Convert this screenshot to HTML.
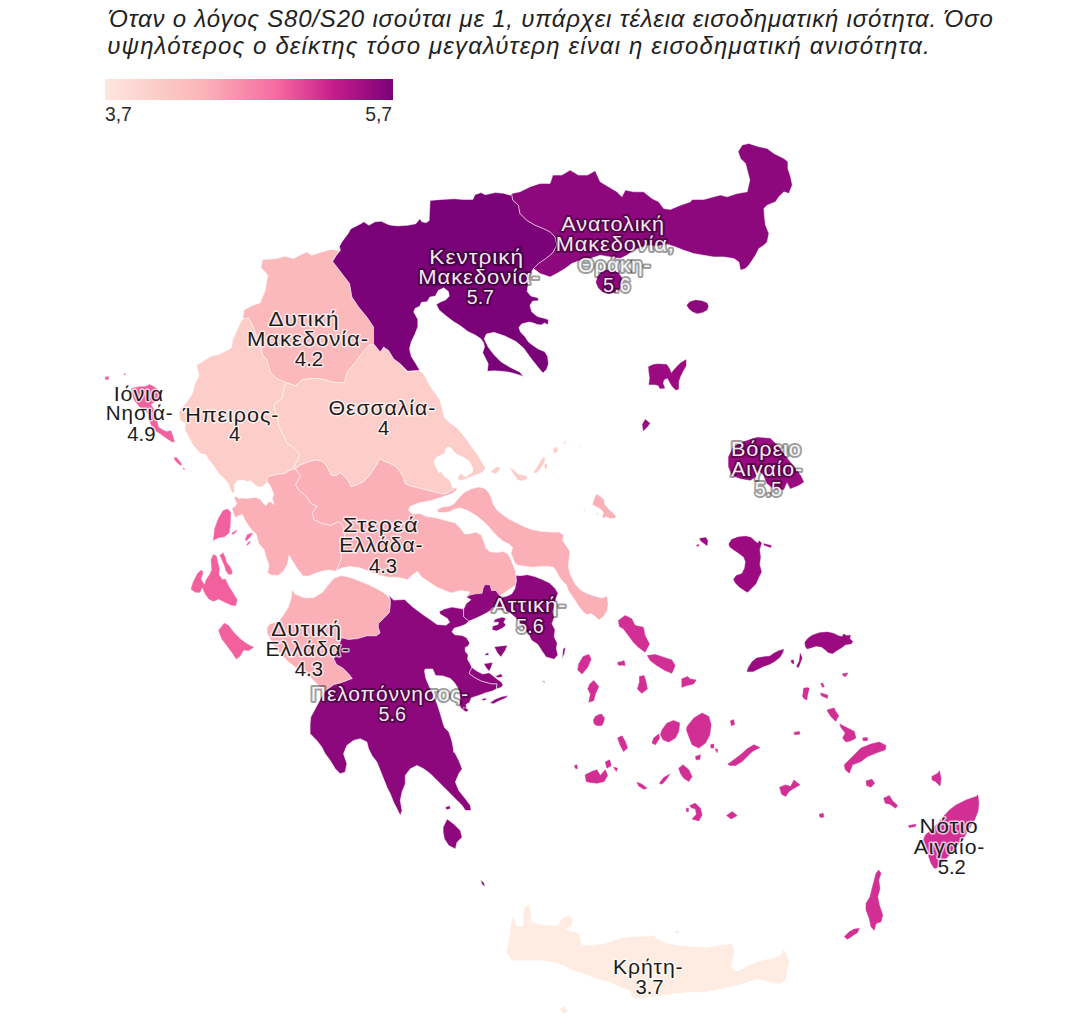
<!DOCTYPE html>
<html lang="el"><head><meta charset="utf-8"><title>S80/S20</title>
<style>
html,body{margin:0;padding:0;background:#fff;}
body{width:1079px;height:1033px;overflow:hidden;position:relative;font-family:"Liberation Sans","DejaVu Sans",sans-serif;color:#222;}
.intro{position:absolute;font-style:italic;font-size:24px;line-height:28px;color:#222;white-space:nowrap;}
.i1{left:108.8px;top:4.5px;letter-spacing:.796px;} .i2{left:107.2px;top:32px;letter-spacing:1.15px;}
.bar{position:absolute;left:105px;top:78.5px;width:288px;height:21px;background:linear-gradient(90deg,#fee7de 0%,#fbb4b9 34%,#f768a1 60%,#c51b8a 80%,#7a0177 100%);}
.lg{position:absolute;top:103.2px;font-size:21px;line-height:22px;color:#2b2b2b;transform:scaleX(.92);}
.lg.a{left:104.5px;transform-origin:0 0;} .lg.b{left:291.5px;width:100px;text-align:right;transform-origin:100% 0;}
svg{position:absolute;left:0;top:0;}
.i{stroke-width:.5;stroke-linejoin:round;}
.r{stroke:#fff;stroke-width:.6;stroke-opacity:.85;stroke-linejoin:round;}
text{font-family:"Liberation Sans","DejaVu Sans",sans-serif;font-size:21px;letter-spacing:.9px;text-anchor:start;paint-order:stroke fill;stroke-linejoin:round;}
.n{letter-spacing:0;}
.lb{fill:#1c1c1c;stroke:#fff;stroke-width:3px;stroke-opacity:.7;}
.lw{fill:#fff;fill-opacity:.93;stroke:#000;stroke-opacity:.4;stroke-width:4px;}
</style></head><body>
<div class="intro i1">Όταν ο λόγος S80/S20 ισούται με 1, υπάρχει τέλεια εισοδηματική ισότητα. Όσο</div>
<div class="intro i2">υψηλότερος ο δείκτης τόσο μεγαλύτερη είναι η εισοδηματική ανισότητα.</div>
<div class="bar"></div>
<div class="lg a">3,7</div><div class="lg b">5,7</div>
<svg width="1079" height="1033" viewBox="0 0 1079 1033">
<g>
<path class="r" fill="#fccdc9" d="M196.4,365.2 202.6,361.5 210.1,356.5 220.1,354.0 231.4,347.7 232.6,340.2 240.2,322.7 242.7,318.9 248.4,318.0 251.7,323.3 254.4,330.0 257.7,338.4 261.0,347.7 262.7,355.1 266.1,358.4 268.4,364.4 270.1,371.8 276.7,378.5 286.1,382.5 283.7,389.6 282.1,398.5 274.8,403.6 274.1,409.0 277.9,416.3 278.5,425.2 283.7,435.7 286.8,443.0 295.7,449.0 299.9,454.8 294.1,466.9 296.3,469.5 294.6,469.5 292.4,468.9 284.6,473.4 275.7,474.5 267.9,476.7 266.8,482.3 265.7,484.0 262.3,486.8 257.9,486.8 253.4,483.4 250.1,480.6 246.8,481.7 243.4,480.1 237.8,480.6 234.5,484.5 234.5,492.3 232.3,493.4 230.1,489.0 228.9,484.5 224.5,479.0 218.9,473.4 213.4,465.6 207.8,458.4 205.6,454.5 200.0,453.4 200.2,453.5 193.5,445.7 189.0,437.9 184.6,429.0 185.7,423.4 180.1,420.1 179.0,412.3 181.3,407.9 186.8,402.3 192.4,393.4 194.6,384.5 199.1,375.6Z"/>
<path class="r" fill="#fccdc9" d="M286.1,382.5 295.4,385.5 302.8,379.5 311.1,378.5 319.2,378.5 326.8,380.1 334.2,382.5 344.5,382.5 345.9,376.5 347.5,371.8 354.9,363.1 360.2,355.4 368.6,345.4 373.6,343.7 380.3,352.1 383.6,347.1 388.6,350.4 393.6,358.8 400.3,363.8 407.0,372.1 419.7,370.3 424.3,374.9 428.0,382.3 432.6,389.7 438.2,397.2 440.1,400.0 442.3,408.9 444.5,417.8 449.0,422.3 455.7,426.7 460.1,431.2 463.5,435.6 467.9,441.2 472.4,447.9 476.8,453.4 480.2,459.0 483.5,464.6 485.5,467.9 483.5,471.2 480.2,473.5 475.7,475.1 471.2,476.8 466.8,478.5 462.3,480.2 458.4,480.2 457.9,477.4 459.6,474.6 462.3,473.5 463.5,476.3 466.8,476.3 470.1,473.5 472.4,472.4 472.9,469.0 471.2,464.6 468.5,460.7 464.6,457.9 460.1,455.7 456.2,454.0 453.4,451.2 451.8,448.4 447.9,446.8 445.6,449.0 445.1,452.9 441.2,455.1 436.7,457.3 434.0,460.7 435.1,465.7 437.3,469.6 439.0,472.9 440.6,471.2 442.9,474.6 445.6,477.4 449.0,479.6 451.2,482.9 451.8,486.8 454.5,487.9 456.8,487.5 455.2,488.4 449.3,491.7 443.5,494.2 436.8,492.6 430.1,490.9 423.5,489.2 416.8,487.5 410.1,485.9 405.1,483.4 403.4,476.7 400.1,471.7 395.9,466.7 390.1,463.4 383.4,460.9 380.1,458.4 376.8,464.2 373.4,470.0 369.2,475.9 363.4,481.7 356.7,485.0 350.9,486.7 348.4,480.9 344.2,475.9 340.1,472.5 335.9,475.9 330.9,475.0 329.2,470.9 325.9,465.0 321.7,460.9 315.0,460.0 306.7,462.5 300.0,465.0 295.0,469.2 296.3,469.5 294.1,466.9 299.9,454.8 295.7,449.0 286.8,443.0 283.7,435.7 278.5,425.2 277.9,416.3 274.1,409.0 274.8,403.6 282.1,398.5 283.7,389.6ZM490.8,471.2 496.7,466.7 500.4,467.4 498.9,471.2 495.2,474.1 491.5,472.6ZM510.0,467.2 513.7,469.7 518.2,474.1 523.4,475.2 527.5,476.0 527.1,479.3 522.6,481.1 517.4,480.1 514.5,475.6 511.5,471.2ZM533.0,472.6 536.7,467.4 540.4,460.8 543.4,456.8 545.6,458.8 544.1,463.7 540.4,468.9 536.0,473.4ZM544.1,464.5 547.1,463.3 547.4,468.2 544.9,469.7ZM553.3,448.9 555.7,446.4 557.8,448.2 557.5,451.9 554.8,453.4 553.3,451.4ZM563.1,443.7 564.9,440.5 566.1,441.1 564.9,444.9ZM579.4,446.4 580.5,445.9 580.5,448.2 579.7,448.2ZM559.0,479.0 560.5,479.0 560.5,480.5 559.1,480.5Z"/>
<path class="r" fill="#fbb9bc" d="M262.7,259.6 276.7,258.6 285.1,256.2 293.4,258.6 301.8,254.2 306.8,251.9 311.8,255.2 321.8,251.9 330.2,249.5 339.5,250.2 332.5,261.2 336.9,266.9 341.9,273.6 349.6,283.6 351.9,297.0 358.6,307.0 366.9,317.0 373.6,327.0 373.6,343.7 368.6,345.4 360.2,355.4 354.9,363.1 347.5,371.8 345.9,376.5 344.5,382.5 334.2,382.5 326.8,380.1 319.2,378.5 311.1,378.5 302.8,379.5 295.4,385.5 286.1,382.5 276.7,378.5 270.1,371.8 268.4,364.4 266.1,358.4 262.7,355.1 261.0,347.7 257.7,338.4 254.4,330.0 251.7,323.3 248.4,318.0 242.7,318.9 243.9,310.2 250.2,306.4 260.2,302.7 265.2,290.2 267.7,275.1 260.9,267.6Z"/>
<path class="r" fill="#7a0177" d="M332.6,261.5 336.3,255.4 340.4,250.3 339.4,246.3 342.4,241.2 348.5,233.0 350.6,228.9 360.8,223.8 363.8,221.8 368.9,225.3 375.0,221.8 381.2,221.2 389.3,224.9 397.5,225.9 407.7,225.3 415.8,223.8 419.9,218.7 421.9,221.8 426.0,222.8 429.1,220.8 430.1,200.4 442.3,199.4 454.6,198.8 462.7,199.4 472.9,199.4 474.9,194.7 481.1,192.6 485.1,194.7 495.3,192.6 503.5,193.3 510.6,195.3 512.7,191.2 511.7,193.5 512.7,200.1 518.4,205.2 520.0,213.5 526.7,220.2 535.1,225.2 543.4,228.5 550.1,231.9 555.1,236.9 556.8,245.2 553.4,251.9 550.1,255.3 543.4,260.3 538.4,263.6 533.4,268.6 530.9,273.0 528.6,278.5 528.1,284.1 527.2,291.5 530.9,296.1 538.3,298.0 538.3,300.8 532.7,301.1 529.9,305.4 531.8,311.9 537.4,316.5 544.8,318.4 548.5,319.7 547.9,324.9 544.8,323.0 541.1,324.9 537.4,324.5 532.7,322.7 529.0,322.1 521.6,323.9 518.8,327.7 520.7,332.3 525.3,336.9 528.1,341.6 532.7,345.3 538.3,349.0 544.8,351.8 547.6,356.4 548.5,363.8 546.6,369.4 542.9,373.1 538.3,367.5 530.9,358.2 523.5,348.0 516.0,341.6 504.9,336.0 493.8,332.3 486.4,334.1 484.2,338.8 488.2,347.1 493.8,354.5 501.2,361.9 510.5,367.5 519.7,372.1 523.5,376.4 516.0,374.0 508.6,372.1 501.2,371.2 493.8,370.8 487.3,371.2 488.2,363.8 485.5,358.2 482.7,352.7 484.5,347.1 483.6,342.5 480.8,338.8 475.3,335.1 467.8,331.4 460.4,325.8 453.0,321.2 445.6,315.6 439.1,310.0 436.3,304.5 441.0,301.7 445.6,299.9 449.3,296.1 448.4,291.5 443.8,287.8 438.2,290.6 435.4,296.1 429.9,297.1 427.1,301.7 421.5,302.3 419.7,306.3 415.0,308.6 413.7,311.9 417.8,319.3 417.8,326.7 415.0,334.1 411.3,341.6 409.5,349.0 411.3,356.4 415.9,363.8 419.7,370.3 407.6,371.2 400.3,363.8 393.6,358.8 388.6,350.4 383.6,347.1 380.3,352.1 373.6,343.7 373.6,327.0 366.9,317.0 358.6,307.0 351.9,297.0 349.6,283.6 341.9,273.6 336.9,266.9Z"/>
<path class="r" fill="#8d087c" d="M511.7,193.5 520.0,191.8 530.1,186.8 540.1,183.4 550.1,183.4 552.8,175.1 561.8,175.1 570.1,170.1 578.5,175.1 587.5,175.1 595.2,170.7 600.2,181.8 608.6,186.8 616.9,191.8 621.9,196.8 625.3,190.1 633.6,191.8 643.6,191.8 652.0,198.5 658.7,201.8 663.7,208.5 670.3,209.5 680.4,205.2 690.4,201.8 692.1,199.5 703.7,199.5 713.8,196.8 720.4,195.1 727.1,196.8 737.1,193.5 747.2,191.8 749.8,180.1 747.2,170.1 745.5,163.4 740.5,158.4 738.1,151.7 742.2,145.0 748.8,143.4 758.9,146.7 767.2,148.4 773.9,153.4 783.9,158.4 787.9,161.7 787.9,168.4 790.6,176.8 792.3,185.1 788.9,193.5 783.9,191.8 778.9,196.8 775.6,201.8 767.2,205.2 763.9,208.5 764.5,216.8 765.5,225.2 768.9,233.5 767.2,241.9 763.9,245.2 758.9,248.6 755.5,255.3 752.2,260.3 748.8,265.3 745.5,268.6 740.5,270.3 738.8,261.9 733.8,258.6 723.8,256.9 713.8,256.9 703.7,255.3 693.7,253.6 683.7,250.2 675.4,246.9 667.0,244.2 657.0,246.2 647.0,245.2 633.6,250.2 626.9,255.3 620.2,258.6 610.2,256.9 600.2,255.3 590.2,258.6 580.2,260.3 571.8,263.6 565.1,268.6 556.8,273.6 550.1,277.0 540.1,273.6 533.4,268.6 538.4,263.6 543.4,260.3 550.1,255.3 553.4,251.9 556.8,245.2 555.1,236.9 550.1,231.9 543.4,228.5 535.1,225.2 526.7,220.2 520.0,213.5 518.4,205.2 512.7,200.1ZM595.6,282.4 597.1,276.9 600.8,272.2 606.3,269.5 613.8,270.0 619.3,273.2 622.1,277.8 622.7,283.4 620.2,288.9 615.6,292.6 609.1,294.1 602.6,292.3 598.0,288.0ZM686.4,305.2 689.7,301.5 695.3,299.7 701.8,300.4 707.4,302.8 708.7,306.5 707.4,310.2 702.7,312.7 697.2,313.9 692.5,312.1 688.8,308.9Z"/>
<path class="r" fill="#fbb0b7" d="M295.5,468.9 300.4,476.1 295.5,484.6 298.0,489.4 306.4,496.6 311.2,503.9 317.2,506.3 312.4,512.3 313.6,519.5 320.8,523.1 330.5,525.5 337.7,521.9 341.3,523.1 344.9,531.6 343.7,541.2 341.3,550.8 341.3,558.1 337.7,567.7 335.3,571.3 342.5,567.7 349.8,566.5 359.4,567.7 369.0,571.3 378.7,574.9 388.3,577.3 398.0,577.3 407.6,579.8 411.2,576.1 417.2,571.3 422.0,577.3 429.3,582.2 436.5,587.0 444.9,590.6 451.0,593.0 460.6,590.6 469.8,591.8 466.3,597.9 475.6,599.7 494.1,599.7 516.0,584.9 516.0,575.3 515.5,571.0 513.6,566.4 511.8,561.8 510.8,559.0 508.0,554.3 503.4,551.6 496.0,552.5 489.5,551.6 485.8,547.8 483.9,541.4 481.2,534.9 475.6,532.1 469.1,533.9 464.5,533.9 459.9,527.5 455.2,522.8 447.8,521.0 440.4,519.1 433.0,517.3 425.6,516.3 420.0,513.6 412.2,514.0 408.6,510.4 409.8,506.7 418.2,503.1 430.2,500.7 442.3,497.1 451.9,493.5 458.0,489.2 456.7,489.9 456.8,487.5 455.2,488.4 449.3,491.7 443.5,494.2 436.8,492.6 430.1,490.9 423.5,489.2 416.8,487.5 410.1,485.9 405.1,483.4 403.4,476.7 400.1,471.7 395.9,466.7 390.1,463.4 383.4,460.9 380.1,458.4 376.8,464.2 373.4,470.0 369.2,475.9 363.4,481.7 356.7,485.0 350.9,486.7 348.4,480.9 344.2,475.9 340.1,472.5 335.9,475.9 330.9,475.0 329.2,470.9 325.9,465.0 321.7,460.9 315.0,460.0 306.7,462.5 300.0,465.0 295.0,469.2ZM436.7,509.9 442.2,507.1 449.7,506.1 454.3,503.4 458.9,497.8 464.5,492.2 471.9,488.5 479.3,487.1 484.9,488.5 488.6,492.2 491.4,497.8 493.2,504.3 496.9,509.9 502.5,514.5 509.0,519.1 516.4,522.8 523.8,526.5 531.2,529.3 540.5,531.2 549.7,532.1 559.0,532.1 563.7,534.9 562.7,540.4 566.4,546.0 570.1,551.6 569.2,559.0 568.3,566.4 570.1,573.8 572.9,579.4 575.7,584.9 581.3,590.5 586.8,593.3 594.2,596.0 601.6,597.9 607.2,596.0 608.1,603.5 607.2,610.9 603.5,616.4 598.9,620.1 595.2,616.4 591.5,613.7 586.8,614.6 583.1,611.8 579.4,607.2 575.7,601.6 572.0,596.0 568.3,590.5 566.4,584.9 562.7,581.2 559.0,576.6 556.2,571.0 553.5,567.3 547.9,566.4 540.5,566.4 533.1,567.3 525.7,566.4 518.2,565.5 514.5,562.7 512.7,557.1 510.8,553.4 512.7,547.8 509.0,544.1 503.4,541.4 497.8,536.7 493.2,532.1 488.6,526.5 483.9,521.9 478.4,517.3 472.8,513.6 466.3,509.9 459.9,508.0 455.2,508.9 449.7,511.7 444.1,512.6 438.5,512.6ZM592.3,504.5 594.6,497.1 596.8,493.8 600.5,496.4 604.2,499.3 604.9,504.5 608.6,509.0 613.1,512.7 616.1,516.4 614.6,518.6 609.4,518.6 605.7,516.4 604.2,518.6 602.0,517.1 603.5,512.7 600.5,509.0 596.0,506.7ZM583.4,509.7 584.9,509.4 584.9,511.2 583.7,511.2ZM596.3,514.2 597.8,511.9 598.4,513.1 597.2,515.2Z"/>
<path class="r" fill="#fbb0b7" d="M295.5,468.4 295.5,468.9 300.4,476.1 295.5,484.6 298.0,489.4 306.4,496.6 311.2,503.9 317.2,506.3 312.4,512.3 313.6,519.5 320.8,523.1 330.5,525.5 337.7,521.9 341.3,523.1 344.9,531.6 343.7,541.2 341.3,550.8 341.3,558.1 337.7,567.7 335.3,571.3 328.3,570.1 317.9,572.3 309.0,576.0 303.1,576.0 297.1,568.6 292.7,561.2 289.0,555.2 287.5,564.1 283.8,570.8 278.6,575.3 271.9,575.3 267.5,573.0 269.0,565.6 266.0,556.7 263.8,549.3 258.6,543.4 256.4,534.5 251.2,529.3 246.0,521.9 242.3,514.5 234.9,517.4 231.9,508.5 235.6,505.7 236.7,503.5 234.0,497.9 235.6,496.2 239.0,498.4 242.3,497.9 246.8,498.4 251.2,497.9 255.7,497.3 260.1,499.0 263.5,503.5 266.2,505.7 268.5,501.8 271.2,502.3 274.0,504.6 272.4,499.0 273.5,493.4 271.2,487.9 268.5,482.9 266.8,482.3 267.9,476.7 275.7,474.5 284.6,473.4 292.4,468.9 294.6,469.5ZM292.1,589.5 294.9,594.1 304.1,597.8 313.4,597.8 322.7,592.2 328.2,584.8 333.8,578.3 341.2,575.6 350.5,577.4 359.7,581.1 369.0,584.8 378.3,589.5 385.7,594.1 390.3,599.7 390.3,605.2 389.4,612.6 383.8,618.2 378.3,623.8 378.3,627.5 380.1,633.0 376.4,635.8 367.2,635.8 357.9,638.6 348.6,639.5 341.2,637.7 339.4,644.1 335.7,651.6 333.8,659.0 336.6,664.5 343.1,668.2 348.6,673.8 352.3,678.4 341.2,682.7 333.8,684.6 324.5,691.4 311.6,678.4 300.4,671.0 289.3,662.7 280.0,653.4 272.6,644.1 267.1,633.0 267.1,627.5 269.9,623.8 278.2,621.9 283.8,614.5 288.4,607.1 291.2,597.8Z"/>
<path class="r" fill="#8d087c" d="M390.3,599.7 390.3,605.2 389.4,612.6 383.8,618.2 378.3,623.8 378.3,627.5 380.1,633.0 376.4,635.8 367.2,635.8 357.9,638.6 348.6,639.5 341.2,637.7 339.4,644.1 335.7,651.6 333.8,659.0 336.6,664.5 343.1,668.2 348.6,673.8 352.3,678.4 341.2,682.7 333.8,684.6 324.5,691.4 313.5,712.0 310.8,717.0 310.1,723.7 310.1,733.7 316.8,740.4 321.8,747.0 325.2,753.7 330.2,760.4 335.2,768.8 340.2,773.8 345.2,772.1 346.9,763.7 343.5,753.7 346.9,745.4 353.5,740.4 360.2,738.7 366.9,742.0 368.6,748.7 371.9,755.4 376.9,762.1 380.3,770.4 383.6,778.8 386.9,787.1 390.3,793.8 393.6,802.2 397.0,808.8 400.3,815.5 402.0,810.5 400.3,800.5 402.0,792.1 405.3,783.8 405.3,775.4 410.3,768.8 417.0,765.4 423.7,768.8 430.4,773.8 435.4,778.8 440.4,783.8 445.4,788.8 450.4,793.8 457.1,800.5 462.1,805.5 465.4,810.5 471.1,810.5 470.4,805.5 465.4,798.8 458.8,790.5 455.4,782.1 458.8,773.8 462.1,768.8 458.8,760.4 453.7,750.4 454.1,752.7 451.9,740.9 448.9,732.0 444.5,727.5 443.0,723.1 440.0,712.7 437.1,703.8 433.4,694.9 429.7,687.5 425.9,678.6 424.5,671.2 425.2,669.0 432.6,669.0 435.6,675.6 443.0,675.9 450.4,678.6 454.1,682.3 457.1,686.7 459.3,691.9 460.1,697.9 459.3,703.8 460.8,708.2 465.2,711.2 469.0,710.5 466.7,709.0 466.0,704.5 469.7,702.3 471.2,697.9 475.6,696.4 480.1,694.9 486.0,692.7 491.9,691.2 496.4,689.0 497.1,683.8 491.9,683.8 486.0,682.3 480.8,680.8 474.1,677.1 469.0,673.4 471.9,667.5 469.7,663.0 467.5,659.3 468.2,654.9 465.2,651.2 465.2,647.4 468.2,646.0 469.7,643.0 466.7,637.8 462.3,635.6 454.9,634.8 451.9,631.9 454.1,628.2 459.3,626.7 465.2,624.5 469.7,620.8 466.3,619.2 463.6,616.4 463.6,609.0 451.9,607.1 444.5,608.9 439.3,611.6 440.0,614.1 447.4,618.5 449.7,622.2 446.0,625.2 437.1,624.5 429.7,619.3 422.2,614.1 413.3,607.4 405.9,600.7 405.3,599.4 393.6,600.1 388.6,595.1ZM445.4,807.2 449.7,805.5 450.4,808.8 446.4,809.8Z"/>
<path class="r" fill="#8d087c" d="M516.0,575.3 516.4,581.2 514.9,588.6 511.8,593.8 507.1,596.0 501.6,597.5 497.8,593.3 496.0,590.5 491.4,590.5 490.1,584.9 484.9,584.6 483.0,588.6 482.1,593.3 475.6,593.8 470.0,595.1 466.3,597.0 471.0,599.7 466.3,603.5 463.6,609.0 463.6,616.4 466.3,619.2 469.1,621.1 474.1,619.0 480.1,616.3 486.0,613.3 490.5,610.4 492.7,607.4 500.8,608.9 509.7,612.6 515.7,617.8 520.8,623.7 524.6,629.7 529.0,634.8 531.2,640.0 537.9,644.5 541.6,650.4 546.1,657.1 554.2,659.3 557.9,654.9 556.4,648.9 557.2,643.0 554.2,637.1 555.0,629.7 552.0,623.7 554.2,617.8 552.7,611.9 556.2,597.9 558.1,593.3 555.3,588.6 549.7,583.1 542.3,579.4 534.9,576.6 527.5,574.7 520.1,575.7ZM494.9,619.3 502.3,617.1 506.0,618.5 503.8,622.2 506.0,625.2 502.3,628.2 496.4,631.1 491.9,629.7 492.7,625.9 497.9,624.5 498.6,622.2 493.4,622.2ZM494.2,646.7 507.5,645.2 505.3,650.4 500.8,657.1 497.1,652.6ZM484.8,654.1 488.2,652.6 489.0,654.9 485.7,655.6ZM483.8,663.8 492.7,662.3 491.2,667.5 489.0,671.2 486.0,667.5ZM494.9,676.4 500.8,673.8 503.1,676.4 498.6,677.8ZM471.9,667.5 477.1,671.2 483.0,674.1 489.0,672.7 492.7,675.6 496.4,678.6 501.6,682.3 503.1,685.3 500.8,687.5 496.4,689.0 497.1,683.8 491.9,683.8 486.0,682.3 480.8,680.8 474.1,677.1 469.0,673.4ZM489.7,703.1 494.9,699.3 502.3,696.4 508.2,695.6 506.0,697.9 499.3,700.8 493.4,703.8ZM481.6,699.1 486.0,697.9 486.7,699.6 483.0,700.8ZM463.0,707.5 466.7,708.2 468.5,710.5 466.0,712.0 463.0,709.7ZM542.3,680.8 544.6,681.3 545.3,682.4 543.1,681.9ZM563.0,648.8 565.7,647.2 564.4,653.8 562.0,658.9ZM443.1,827.2 447.1,818.9 453.7,823.9 460.4,830.5 462.1,837.2 457.1,842.2 455.4,848.9 448.7,845.6 444.4,838.9 443.1,832.2ZM480.5,880.0 483.8,882.3 485.1,887.3 482.1,884.6Z"/>
<path class="i" fill="#feebe2" stroke="#feebe2" d="M506.7,951.9 510.1,935.2 511.7,921.8 513.4,916.8 516.1,926.8 523.4,926.8 524.4,908.4 528.4,905.1 530.8,911.8 530.8,921.8 538.5,924.5 550.1,925.8 558.5,925.8 561.8,918.5 568.5,916.1 572.9,920.1 570.2,926.8 563.5,929.1 571.9,931.8 578.5,933.5 580.2,940.2 581.9,945.2 593.6,945.8 606.9,943.5 620.3,938.5 633.6,936.8 647.0,936.8 653.7,935.8 657.0,939.2 667.0,943.5 680.4,945.8 693.8,946.9 707.1,947.9 720.5,945.2 732.2,944.5 733.8,951.9 732.2,960.2 730.5,966.9 735.5,971.9 743.9,968.6 753.9,963.6 763.9,960.2 773.9,958.5 780.6,955.2 783.9,950.2 786.6,955.2 789.0,961.9 786.6,971.9 785.6,980.3 778.9,983.6 767.2,981.3 757.2,978.6 747.2,981.9 737.2,985.3 727.2,986.9 713.8,990.3 700.4,991.9 687.1,991.9 673.7,993.6 660.4,995.3 647.0,997.0 637.0,998.6 632.0,997.0 630.3,990.3 620.3,986.9 610.3,981.9 596.9,978.6 583.5,973.6 573.5,970.2 563.5,965.2 553.5,961.9 540.1,960.2 526.8,960.2 516.7,960.2 511.7,960.2ZM560.2,1008.6 565.2,1007.0 567.5,1011.3 563.5,1013.7ZM675.4,931.2 679.7,931.8 677.1,933.8Z"/>
<path class="i" fill="#f2609e" stroke="#f2609e" d="M131.7,388.4 139.5,386.7 145.1,386.7 149.5,384.5 152.9,386.2 157.3,388.9 160.7,392.8 161.8,397.3 158.5,400.6 152.9,402.8 150.7,404.5 152.9,407.9 155.7,411.8 156.8,417.3 157.3,422.9 158.5,427.3 162.9,430.1 166.8,431.8 170.7,430.7 172.9,436.2 174.3,441.8 171.8,441.8 166.2,437.9 160.7,434.0 155.7,430.7 151.8,426.2 149.5,420.7 148.4,414.0 145.1,410.6 140.6,407.9 137.3,404.0 134.5,400.6 132.8,396.2 131.7,392.3ZM105.0,377.2 108.9,376.7 108.1,379.5 105.6,379.5ZM124.2,373.7 125.3,373.7 125.1,375.0 124.3,375.0ZM174.0,458.0 176.3,457.4 179.6,461.3 181.8,464.6 180.7,465.2 177.4,463.0 175.2,460.2ZM182.9,468.0 184.6,468.5 184.1,469.6ZM213.4,540.4 214.8,528.6 218.6,518.2 223.0,510.8 227.4,509.0 230.7,512.2 230.4,519.7 230.1,527.1 228.9,533.0 224.5,536.7 219.3,537.4 215.6,538.9ZM231.9,533.0 237.1,530.0 234.9,533.0 232.6,534.5ZM245.2,539.7 247.5,534.5 252.7,533.0 249.7,537.4 246.7,540.4ZM246.7,544.6 249.7,541.2 250.4,542.2 247.5,545.2ZM191.1,589.3 193.3,581.9 197.8,573.0 201.5,570.1 203.0,573.0 200.8,579.0 204.5,584.9 205.9,580.5 209.7,574.5 211.9,570.1 211.1,559.7 213.4,554.5 216.3,556.0 217.8,562.7 219.3,568.6 218.8,574.5 222.3,579.7 225.2,579.0 228.9,586.4 233.4,593.8 237.1,599.7 235.6,605.7 231.2,604.9 224.5,602.0 218.6,599.0 213.4,601.2 208.9,599.0 205.2,593.8 202.2,587.1 200.0,592.3 195.6,592.3ZM220.0,555.2 223.0,553.0 225.2,557.5 226.7,562.7 229.7,566.4 231.9,570.8 231.9,573.8 228.9,574.5 226.0,570.8 224.5,565.6 222.3,560.4ZM218.6,630.6 224.2,623.3 228.6,625.6 233.6,632.3 240.3,639.0 247.0,644.0 253.6,647.3 248.6,650.6 243.6,650.0 240.3,655.7 236.3,659.0 231.9,652.3 226.9,645.6 221.9,639.0Z"/>
<path class="i" fill="#9b0a80" stroke="#9b0a80" d="M648.6,366.8 653.6,364.6 658.2,364.0 666.6,364.6 669.4,368.6 671.2,373.3 675.8,367.7 680.5,363.1 686.0,359.7 686.0,365.8 683.3,370.5 680.5,376.0 678.6,381.6 678.6,389.0 675.8,389.9 672.1,386.2 669.4,381.6 667.5,377.9 663.8,379.7 662.9,383.5 664.7,388.1 660.1,388.6 658.2,385.3 654.5,384.4 649.0,384.4 649.9,377.9 649.0,372.3ZM642.5,424.2 645.3,419.6 649.9,423.3 647.1,427.0 643.4,430.7ZM728.6,456.8 733.6,446.8 743.6,441.8 757.0,437.4 770.3,438.5 777.0,445.1 782.0,451.8 788.7,460.2 795.4,468.5 800.4,475.2 803.7,481.9 798.7,485.2 790.4,488.6 787.0,481.9 783.7,489.6 773.7,488.6 767.0,483.5 763.7,475.2 758.7,470.2 755.3,476.9 750.3,480.2 740.3,478.5 731.9,475.2 728.6,466.8ZM699.6,538.5 705.8,537.6 707.6,540.4 707.1,545.6 703.9,543.2 701.1,541.3ZM696.5,545.6 698.9,544.5 698.3,546.3ZM728.9,544.1 731.7,539.5 738.2,537.1 745.6,536.3 751.2,537.6 754.9,541.3 757.7,543.2 759.5,540.8 761.4,543.2 759.5,549.7 760.4,557.1 759.5,564.5 761.4,571.9 758.6,577.5 755.8,583.9 751.2,588.6 747.5,592.3 743.8,590.1 739.1,586.7 735.4,583.0 733.6,579.3 736.3,575.6 741.9,573.8 744.7,568.2 745.6,561.7 743.8,557.1 739.1,553.4 733.6,549.7 729.9,546.9ZM763.8,543.7 771.2,545.6 770.6,547.4 764.1,545.0ZM804.9,642.3 807.7,638.6 812.3,635.3 819.7,632.7 827.2,632.1 833.7,633.4 838.3,635.8 842.0,636.8 843.8,634.0 846.6,635.8 850.3,635.3 849.8,638.6 852.7,641.4 851.3,643.8 845.7,644.6 841.1,647.9 836.4,650.7 832.7,653.5 828.1,652.5 825.3,649.7 821.6,647.0 816.0,646.0 810.5,647.9 806.8,648.8 805.3,646.0ZM747.1,671.6 748.4,667.4 752.1,661.8 756.7,658.1 764.1,656.8 769.7,656.2 774.3,653.1 779.0,650.7 783.6,649.4 782.7,652.5 779.9,657.2 775.3,660.9 769.7,664.2 763.2,666.4 757.7,669.2 753.0,671.6ZM796.6,666.4 799.4,660.9 800.3,653.5 802.1,658.1 800.3,662.7 798.4,667.4ZM791.0,660.5 793.4,659.9 793.8,663.7 791.9,663.1Z"/>
<path class="i" fill="#d22f95" stroke="#d22f95" d="M618.4,620.5 625.1,615.5 631.7,618.8 635.1,625.5 643.4,627.2 645.1,635.5 649.4,643.9 645.1,652.2 638.4,647.2 633.4,642.2 628.4,635.5 623.4,628.8 619.4,626.5ZM647.4,655.6 655.1,654.5 663.5,657.2 671.8,659.9 675.2,665.6 671.8,673.3 665.1,670.6 656.8,665.6 650.1,660.6ZM681.8,678.9 687.5,676.6 690.2,678.9 696.2,679.9 693.5,683.9 686.8,685.6 681.8,687.3ZM639.4,676.6 644.1,675.6 646.1,682.3 647.4,689.0 641.8,693.3 637.4,689.0 639.4,682.3ZM617.4,663.9 624.0,660.6 625.1,665.6ZM803.4,688.7 807.7,687.7 808.6,690.5 806.4,692.4 807.1,699.8 803.4,698.3ZM820.7,693.3 827.5,695.2 827.5,698.3 821.6,696.1ZM820.7,683.5 822.5,683.1 824.4,686.8 822.5,687.2ZM842.4,673.8 847.9,672.9 845.7,676.6 843.5,676.1ZM827.1,710.7 833.8,709.0 838.8,715.7 835.5,720.7 830.5,715.7ZM578.7,663.9 583.1,656.5 588.8,654.5 591.1,658.9 587.7,667.2 582.1,673.9 577.7,669.9ZM589.8,683.9 593.8,680.6 598.8,686.6 595.4,693.9 593.8,700.6 588.8,702.3 590.4,693.9 587.7,688.9ZM593.8,719.0 598.8,714.6 604.4,717.3 603.1,723.3 597.1,725.7 593.8,723.3ZM617.8,662.2 623.8,661.2 624.5,664.5 618.8,665.5ZM595.2,716.4 601.9,714.1 604.2,719.7 601.9,725.4 595.2,724.7 593.6,720.7ZM617.6,738.1 622.0,735.8 625.3,741.4 627.6,748.1 623.6,751.5 620.3,745.4ZM585.2,774.8 591.9,771.5 596.9,769.8 600.2,775.5 605.3,769.8 607.6,775.5 604.2,781.5 596.9,783.2 590.2,782.5 586.2,781.5ZM605.3,762.1 609.6,759.8 611.3,765.5 606.9,768.2ZM613.6,767.2 617.6,768.2 616.3,771.5ZM637.0,782.2 642.0,784.2 647.0,788.2 643.7,789.2 638.7,785.9ZM659.4,783.2 663.7,777.5 669.7,774.2 667.0,778.8 662.0,784.2ZM678.7,768.2 683.1,764.8 688.8,769.8 692.1,776.5 688.8,781.5 683.7,778.2 680.4,773.2ZM662.0,729.8 667.0,723.1 673.7,720.4 679.7,723.1 678.7,731.4 675.4,738.1 668.7,742.1 663.0,739.8 660.4,734.8ZM653.7,738.1 658.7,734.1 659.7,738.1 655.4,744.8 652.0,743.1ZM687.1,726.4 693.8,718.1 702.1,713.1 708.8,716.4 711.1,724.7 709.8,734.8 705.5,743.1 698.8,748.1 692.1,744.8 688.8,736.4 686.4,729.8ZM710.5,744.8 713.8,744.1 713.8,748.1 711.1,748.1ZM715.1,748.8 717.8,749.5 717.1,752.8ZM695.4,756.5 700.4,754.8 699.8,759.5 696.1,759.8ZM727.8,764.2 733.8,759.8 740.5,754.8 747.2,748.8 753.9,744.8 759.9,747.5 752.2,751.5 747.2,756.5 742.2,761.5 735.5,765.5 729.8,765.5ZM689.8,805.6 695.4,803.2 700.4,808.2 702.1,814.9 698.8,820.9 692.1,818.9 696.4,814.3 695.4,808.9 691.1,807.6ZM686.4,808.2 688.4,808.2 688.4,811.6 686.4,811.6ZM726.5,815.6 732.2,811.6 737.2,815.6 731.2,818.9ZM779.6,787.2 785.6,784.9 790.6,786.5 794.0,779.9 800.0,784.9 794.0,788.2 789.0,791.5 785.6,796.6 781.6,794.2ZM730.5,720.7 733.8,719.7 734.5,724.7 731.2,725.4ZM574.5,765.5 576.9,764.8 577.5,768.8 575.2,768.2ZM794.0,732.4 799.3,731.4 800.0,734.1 794.6,734.8ZM804.2,688.0 809.2,688.0 806.5,699.7 802.5,696.4ZM820.9,693.0 827.6,695.3 826.5,698.0ZM827.6,709.7 834.2,708.0 837.6,716.4 835.9,721.4 830.9,716.4ZM839.9,724.1 847.6,728.1 854.3,731.4 855.9,738.1 850.9,740.8 845.9,742.1 842.6,738.1 845.3,733.1 840.9,727.4ZM844.3,764.8 849.3,759.8 854.3,754.8 861.0,748.1 871.0,744.1 879.3,742.1 886.0,745.4 885.3,749.8 876.0,753.1 867.6,756.5 861.0,761.5 852.6,764.8 849.3,773.2 845.3,769.8ZM862.6,738.1 867.3,737.4 867.6,740.4 863.3,740.8ZM866.0,780.9 872.0,779.2 874.6,783.2 871.0,787.2 866.6,785.5ZM883.7,798.2 889.3,795.5 892.7,800.9 897.7,805.6 895.4,808.2 890.0,804.2 885.3,803.2ZM931.8,776.5 937.8,773.2 939.4,770.8 941.1,778.2 940.1,785.9 935.4,781.5 932.1,779.9ZM977.9,794.9 978.9,803.2 977.9,811.6 974.5,819.9 969.5,828.3 964.5,836.6 957.8,845.0 951.1,853.3 944.5,860.0 939.4,866.7 934.4,868.4 931.1,863.4 928.8,856.7 926.1,848.3 923.4,840.0 925.4,835.0 931.1,830.0 937.8,823.3 943.4,816.6 949.5,809.9 956.1,804.9 966.2,799.9 976.2,796.6ZM908.4,825.6 916.1,824.3 915.4,826.6 909.4,827.6ZM878.7,870.0 881.0,873.4 878.7,880.1 880.0,888.4 877.7,896.8 879.3,905.1 882.7,915.1 881.0,921.8 876.0,923.5 874.3,930.2 871.0,926.8 869.3,918.5 866.0,910.1 866.0,903.4 870.0,896.8 872.0,888.4 874.3,880.1 876.0,873.4ZM844.3,936.8 849.3,931.8 854.3,929.1 859.3,928.5 857.6,932.5 852.6,935.8 847.6,939.2ZM819.2,814.3 823.2,813.3 823.9,816.9 820.2,817.6Z"/>
</g>
<g>
<text class="lw" transform="translate(429.35,263.5) scale(1.076,1)">Κεντρική</text>
<text class="lw" transform="translate(418.20,283.7) scale(1.049,1)">Μακεδονία-</text>
<text class="lw n" transform="translate(466.75,304.1) scale(0.935,1)">5.7</text>
<text class="lw" transform="translate(561.25,230.6) scale(1.028,1)">Ανατολική</text>
<text class="lw" transform="translate(555.70,251.4) scale(1.036,1)">Μακεδονία,</text>
<text class="lw" transform="translate(577.95,272.3) scale(0.976,1)">Θράκη-</text>
<text class="lw n" transform="translate(603.05,291.9) scale(0.942,1)">5.6</text>
<text class="lb" transform="translate(268.40,325.7) scale(1.077,1)">Δυτική</text>
<text class="lb" transform="translate(246.95,345.9) scale(1.052,1)">Μακεδονία-</text>
<text class="lb n" transform="translate(294.75,365.8) scale(0.976,1)">4.2</text>
<text class="lb" transform="translate(113.65,400.7) scale(1.023,1)">Ιόνια</text>
<text class="lb" transform="translate(105.70,420.4) scale(0.984,1)">Νησιά-</text>
<text class="lb n" transform="translate(127.30,440.7) scale(0.966,1)">4.9</text>
<text class="lb" transform="translate(182.71,421.7) scale(1.028,1)">Ήπειρος-</text>
<text class="lb n" transform="translate(228.90,441.2) scale(0.957,1)">4</text>
<text class="lb" transform="translate(328.60,415.2) scale(1.014,1)">Θεσσαλία-</text>
<text class="lb n" transform="translate(378.00,435.2) scale(0.957,1)">4</text>
<text class="lw" transform="translate(730.90,455.9) scale(1.032,1)">Βόρειο</text>
<text class="lw" transform="translate(731.20,475.9) scale(1.013,1)">Αιγαίο-</text>
<text class="lw n" transform="translate(754.80,495.9) scale(0.932,1)">5.5</text>
<text class="lb" transform="translate(343.00,531.7) scale(1.104,1)">Στερεά</text>
<text class="lb" transform="translate(339.20,552.4) scale(1.004,1)">Ελλάδα-</text>
<text class="lb n" transform="translate(368.90,572.6) scale(0.966,1)">4.3</text>
<text class="lw" transform="translate(492.15,611.8) scale(1.053,1)">Αττική-</text>
<text class="lw n" transform="translate(516.15,633.1) scale(0.942,1)">5.6</text>
<text class="lb" transform="translate(271.15,635.6) scale(1.075,1)">Δυτική</text>
<text class="lb" transform="translate(265.60,656.1) scale(1.004,1)">Ελλάδα-</text>
<text class="lb n" transform="translate(294.80,675.8) scale(0.966,1)">4.3</text>
<text class="lw" transform="translate(310.85,700.5) scale(1.000,1)">Πελοπόννησος-</text>
<text class="lw n" transform="translate(378.55,721.2) scale(0.942,1)">5.6</text>
<text class="lb" transform="translate(919.40,833.3) scale(1.066,1)">Νότιο</text>
<text class="lb" transform="translate(913.70,854.0) scale(1.010,1)">Αιγαίο-</text>
<text class="lb n" transform="translate(937.70,874.0) scale(0.966,1)">5.2</text>
<text class="lb" transform="translate(612.90,973.6) scale(1.010,1)">Κρήτη-</text>
<text class="lb n" transform="translate(635.40,993.6) scale(0.966,1)">3.7</text>
</g>
</svg>
</body></html>
